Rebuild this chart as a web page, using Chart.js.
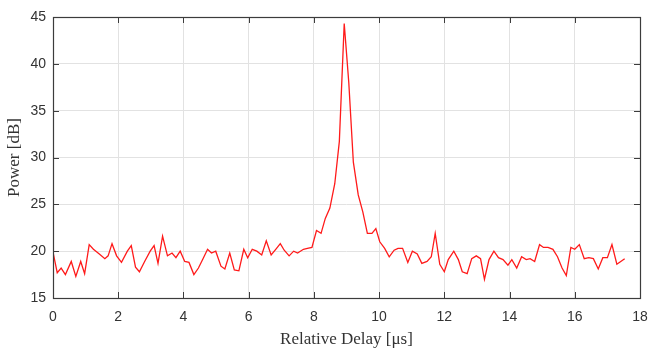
<!DOCTYPE html>
<html>
<head>
<meta charset="utf-8">
<script src="https://cdn.jsdelivr.net/npm/chart.js@4/dist/chart.umd.min.js"></script>
<style>
  html, body { margin: 0; padding: 0; background: #fff; }
  #wrap { width: 652px; height: 352px; }
</style>
</head>
<body>
<div id="wrap"><canvas id="delayChart" width="652" height="352"></canvas></div>
<script>
const delays = [
  0.00, 0.13, 0.25, 0.38, 0.56, 0.70, 0.85, 0.97, 1.11, 1.24,
  1.42, 1.59, 1.69, 1.81, 1.95, 2.10, 2.28, 2.40, 2.53, 2.65,
  2.81, 2.98, 3.10, 3.22, 3.36, 3.51, 3.65, 3.77, 3.90, 4.04,
  4.17, 4.32, 4.46, 4.60, 4.74, 4.86, 4.99, 5.15, 5.27, 5.42,
  5.56, 5.70, 5.85, 5.97, 6.11, 6.25, 6.40, 6.54, 6.69, 6.83,
  6.97, 7.09, 7.24, 7.38, 7.50, 7.68, 7.80, 7.94, 8.08, 8.22,
  8.35, 8.49, 8.64, 8.78, 8.93, 9.07, 9.21, 9.36, 9.50, 9.64,
  9.78, 9.90, 10.02, 10.17, 10.31, 10.46, 10.58, 10.72, 10.88, 11.02,
  11.17, 11.31, 11.47, 11.60, 11.72, 11.86, 12.00, 12.12, 12.29, 12.43,
  12.55, 12.70, 12.84, 12.98, 13.11, 13.23, 13.37, 13.52, 13.66, 13.80,
  13.95, 14.07, 14.22, 14.37, 14.51, 14.63, 14.77, 14.92, 15.04, 15.18,
  15.33, 15.47, 15.61, 15.74, 15.88, 16.00, 16.14, 16.29, 16.43, 16.57,
  16.72, 16.86, 17.00, 17.14, 17.29, 17.41, 17.53
];
const power = [
  19.9, 17.7, 18.2, 17.5, 18.9, 17.3, 18.9, 17.6, 20.7, 20.2,
  19.7, 19.2, 19.5, 20.8, 19.5, 18.8, 20.0, 20.6, 18.3, 17.8,
  18.9, 20.0, 20.6, 18.7, 21.6, 19.5, 19.8, 19.3, 20.0, 18.9,
  18.8, 17.5, 18.2, 19.2, 20.2, 19.8, 20.0, 18.4, 18.1, 19.8,
  18.0, 17.9, 20.2, 19.3, 20.2, 20.0, 19.6, 21.1, 19.6, 20.2,
  20.8, 20.1, 19.5, 20.0, 19.8, 20.2, 20.3, 20.4, 22.2, 21.9,
  23.5, 24.6, 27.2, 31.7, 44.3, 38.0, 29.5, 26.0, 24.2, 21.9,
  21.9, 22.4, 21.0, 20.3, 19.4, 20.1, 20.3, 20.3, 18.8, 20.0,
  19.7, 18.7, 18.9, 19.4, 21.9, 18.6, 17.8, 19.1, 20.0, 19.1,
  17.8, 17.6, 19.2, 19.5, 19.2, 17.0, 19.1, 20.0, 19.3, 19.1,
  18.5, 19.1, 18.2, 19.4, 19.1, 19.2, 18.9, 20.7, 20.4, 20.4,
  20.2, 19.4, 18.2, 17.4, 20.4, 20.2, 20.7, 19.2, 19.3, 19.2,
  18.1, 19.3, 19.3, 20.7, 18.6, 18.9, 19.2
];
const xTicks = [0, 2, 4, 6, 8, 10, 12, 14, 16, 18];
const yTicks = [15, 20, 25, 30, 35, 40, 45];

const points = delays.map((d, i) => ({ x: d, y: power[i] }));

// MATLAB style box with inward tick marks
const boxTicks = {
  id: 'boxTicks',
  afterDraw(chart) {
    const { ctx, chartArea: a, scales } = chart;
    ctx.save();
    ctx.strokeStyle = '#3c3c3c';
    ctx.lineWidth = 1;
    ctx.beginPath();
    xTicks.forEach(v => {
      const px = Math.round(scales.x.getPixelForValue(v)) + 0.5;
      ctx.moveTo(px, a.bottom); ctx.lineTo(px, a.bottom - 6);
      ctx.moveTo(px, a.top); ctx.lineTo(px, a.top + 6);
    });
    yTicks.forEach(v => {
      const py = Math.round(scales.y.getPixelForValue(v)) + 0.5;
      ctx.moveTo(a.left, py); ctx.lineTo(a.left + 6, py);
      ctx.moveTo(a.right, py); ctx.lineTo(a.right - 6, py);
    });
    ctx.stroke();
    ctx.lineWidth = 1.2;
    ctx.strokeRect(Math.round(a.left) + 0.5, Math.round(a.top) + 0.5,
      Math.round(a.right - a.left), Math.round(a.bottom - a.top));
    ctx.restore();
  }
};

new Chart(document.getElementById('delayChart').getContext('2d'), {
  type: 'line',
  data: {
    datasets: [{
      data: points,
      borderColor: '#ff1a1a',
      borderWidth: 1.3,
      pointRadius: 0,
      tension: 0,
      fill: false
    }]
  },
  options: {
    responsive: false,
    animation: false,
    layout: { padding: { top: 17, right: 12, left: 0, bottom: 0 } },
    plugins: { legend: { display: false }, tooltip: { enabled: false } },
    scales: {
      x: {
        type: 'linear',
        min: 0, max: 18,
        afterBuildTicks: s => { s.ticks = xTicks.map(v => ({ value: v })); },
        afterFit: s => { s.height = 54; s.paddingLeft = 0; s.paddingRight = 0; },
        grid: { color: '#e2e2e2', lineWidth: 1, drawTicks: false },
        border: { display: false },
        ticks: {
          padding: 11,
          color: '#333',
          font: { family: 'Liberation Sans', size: 14 }
        },
        title: {
          display: true,
          text: 'Relative Delay [μs]',
          color: '#333',
          padding: { top: 0, bottom: 2 },
          font: { family: 'Liberation Serif', size: 17 }
        }
      },
      y: {
        min: 15, max: 45,
        afterBuildTicks: s => { s.ticks = yTicks.map(v => ({ value: v })); },
        afterFit: s => { s.width = 53; s.paddingTop = 0; s.paddingBottom = 0; },
        grid: { color: '#e2e2e2', lineWidth: 1, drawTicks: false },
        border: { display: false },
        ticks: {
          padding: 7,
          color: '#333',
          font: { family: 'Liberation Sans', size: 14 }
        },
        title: {
          display: true,
          text: 'Power [dB]',
          color: '#333',
          padding: { top: 4, bottom: 0 },
          font: { family: 'Liberation Serif', size: 17 }
        }
      }
    }
  },
  plugins: [boxTicks]
});
</script>
</body>
</html>
